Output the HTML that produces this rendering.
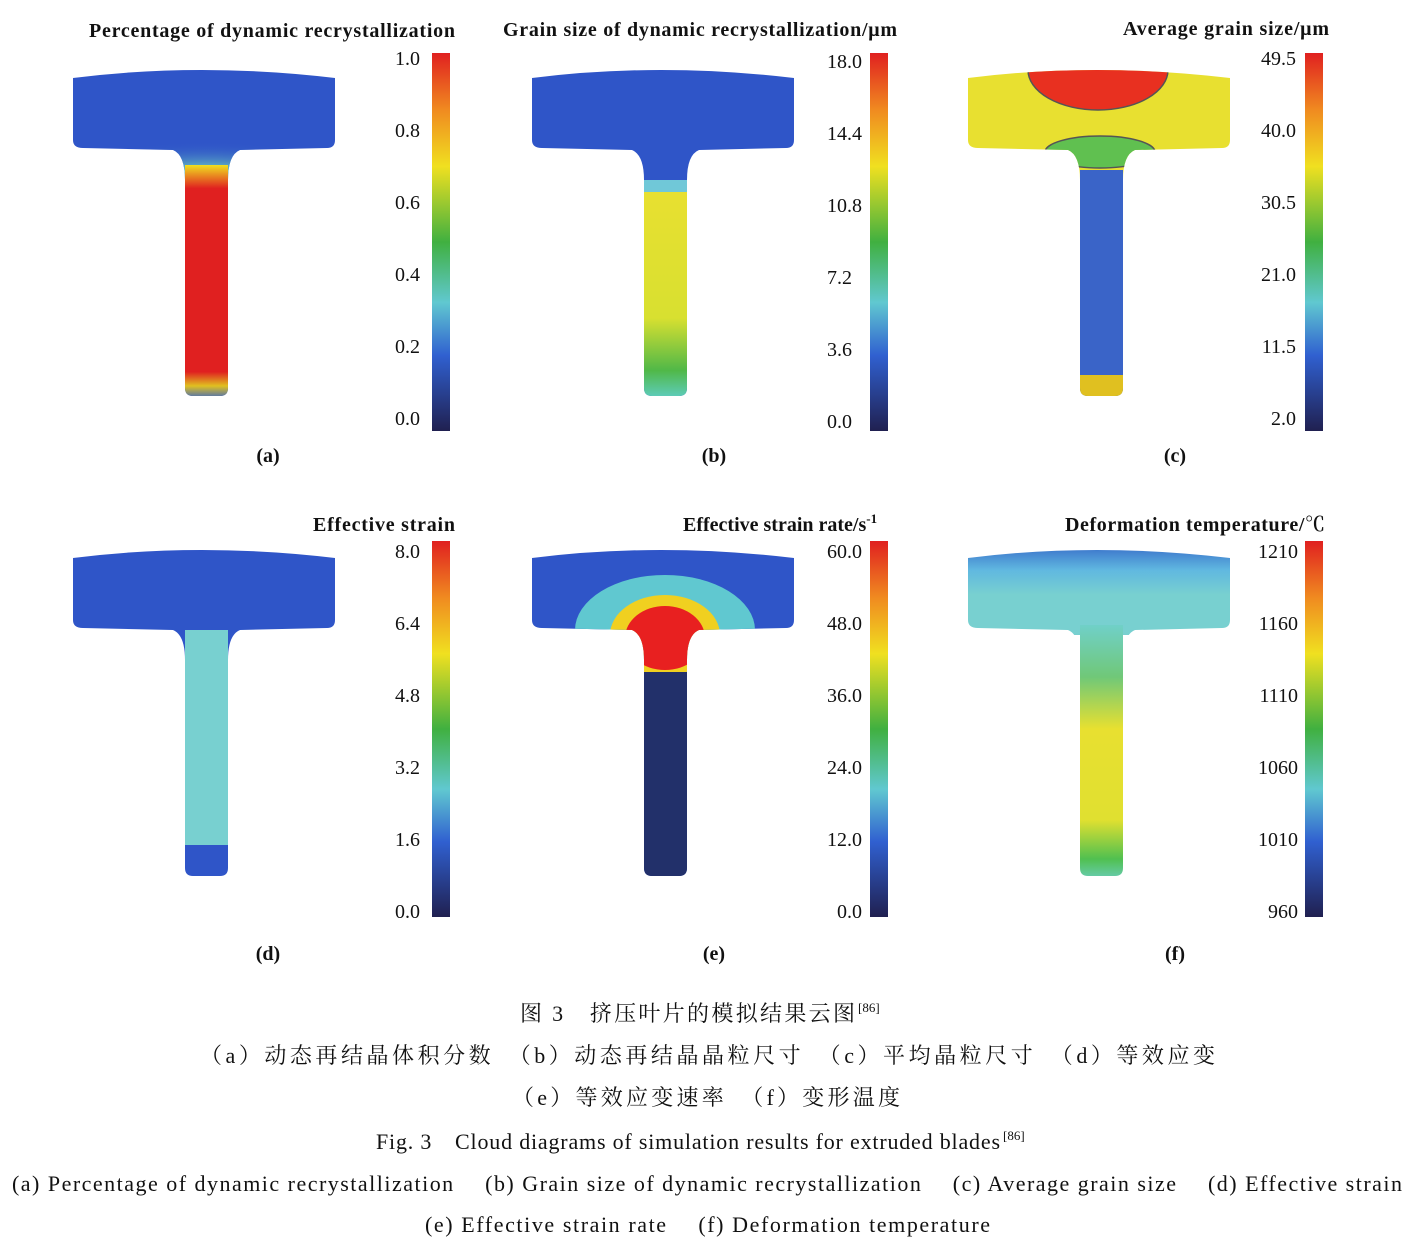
<!DOCTYPE html>
<html><head><meta charset="utf-8"><style>
body{margin:0;background:#fff;}
svg{display:block}
text{font-family:"Liberation Serif","Noto Serif CJK SC",serif;fill:#111}
.t{font-size:20px;font-weight:600}
.k{font-size:20px}
.c{font-size:22px}
</style></head><body>
<svg width="1425" height="1251" viewBox="0 0 1425 1251" xmlns="http://www.w3.org/2000/svg">
<defs>
<linearGradient id="cb" x1="0" y1="0" x2="0" y2="1">
<stop offset="0" stop-color="#e02020"/><stop offset="0.15" stop-color="#f08a20"/><stop offset="0.3" stop-color="#f0e020"/><stop offset="0.5" stop-color="#40b040"/><stop offset="0.66" stop-color="#60c8d0"/><stop offset="0.8" stop-color="#3060d0"/><stop offset="1" stop-color="#202050"/>
</linearGradient>
<clipPath id="T" clipPathUnits="userSpaceOnUse"><path d="M73,78 Q200,62 335,78 L335,140 Q335,148 327,148 L240,150 Q228,155 228,180 L228,388 Q228,396 220,396 L193,396 Q185,396 185,388 L185,180 Q185,155 173,150 L83,148 Q73,148 73,140 Z"/></clipPath>
<radialGradient id="ra" cx="0.5" cy="1" r="0.6"><stop offset="0" stop-color="#f0e020"/><stop offset="0.4" stop-color="#70d0c0"/><stop offset="1" stop-color="#2f55c8" stop-opacity="0"/></radialGradient>
<linearGradient id="sb" x1="0" y1="0" x2="0" y2="1"><stop offset="0" stop-color="#e8e030"/><stop offset="0.6" stop-color="#d8e030"/><stop offset="0.85" stop-color="#50b848"/><stop offset="1" stop-color="#60d0d0"/></linearGradient>
<linearGradient id="sf" x1="0" y1="0" x2="0" y2="1"><stop offset="0" stop-color="#70d0c8"/><stop offset="0.2" stop-color="#70c878"/><stop offset="0.4" stop-color="#e8e030"/><stop offset="0.75" stop-color="#e0e030"/><stop offset="0.9" stop-color="#50c050"/><stop offset="1" stop-color="#70d0d0"/></linearGradient>
<linearGradient id="hf" x1="0" y1="0" x2="0" y2="1"><stop offset="0" stop-color="#2850c0"/><stop offset="0.35" stop-color="#60b8e0"/><stop offset="0.6" stop-color="#78d0d0"/><stop offset="1" stop-color="#78d0d0"/></linearGradient>
<linearGradient id="sa" x1="0" y1="0" x2="0" y2="1"><stop offset="0" stop-color="#f0e020"/><stop offset="0.1" stop-color="#e02020"/><stop offset="0.88" stop-color="#e02020"/><stop offset="0.94" stop-color="#e0c020"/><stop offset="1" stop-color="#3060d0"/></linearGradient>
</defs>

<g clip-path="url(#T)">
<rect x="60" y="55" width="290" height="350" fill="#2f55c8"/>
<ellipse cx="206" cy="150" rx="140" ry="40" fill="url(#ra)"/>
<rect x="185" y="165" width="43" height="235" fill="url(#sa)"/>
</g>
<g transform="translate(459,0)"><g clip-path="url(#T)">
<rect x="60" y="55" width="290" height="350" fill="#2f55c8"/>
<rect x="185" y="180" width="43" height="12" fill="#70c8d8"/>
<rect x="185" y="192" width="43" height="210" fill="url(#sb)"/>
</g></g>
<g transform="translate(895,0)"><g clip-path="url(#T)">
<rect x="60" y="55" width="290" height="350" fill="#e8e030"/>
<ellipse cx="203" cy="70" rx="70" ry="40" fill="#e83020" stroke="#555" stroke-width="1.5"/>
<ellipse cx="205" cy="152" rx="55" ry="16" fill="#60c050" stroke="#555" stroke-width="1.5"/>
<rect x="185" y="170" width="43" height="230" fill="#3a64c8"/>
<rect x="185" y="375" width="43" height="25" fill="#e0c020"/>
</g></g>
<g transform="translate(0,480)"><g clip-path="url(#T)">
<rect x="60" y="55" width="290" height="350" fill="#2f55c8"/>
<rect x="185" y="150" width="43" height="215" fill="#78d0d0"/>
</g></g>
<g transform="translate(459,480)"><g clip-path="url(#T)">
<rect x="60" y="55" width="290" height="350" fill="#2f55c8"/>
<ellipse cx="206" cy="150" rx="90" ry="55" fill="#60c8d0"/>
<ellipse cx="206" cy="155" rx="55" ry="40" fill="#f0d020"/>
<ellipse cx="206" cy="158" rx="40" ry="32" fill="#e82020"/>
<rect x="185" y="192" width="43" height="210" fill="#22306a"/>
</g></g>
<g transform="translate(895,480)"><g clip-path="url(#T)">
<rect x="60" y="55" width="290" height="100" fill="url(#hf)"/>
<rect x="185" y="145" width="43" height="260" fill="url(#sf)"/>
</g></g>

<rect x="432" y="53" width="18" height="378" fill="url(#cb)"/>
<rect x="870" y="53" width="18" height="378" fill="url(#cb)"/>
<rect x="1305" y="53" width="18" height="378" fill="url(#cb)"/>
<rect x="432" y="541" width="18" height="376" fill="url(#cb)"/>
<rect x="870" y="541" width="18" height="376" fill="url(#cb)"/>
<rect x="1305" y="541" width="18" height="376" fill="url(#cb)"/>

<g class="t" lengthAdjust="spacing">
<text x="89" y="37" textLength="366" lengthAdjust="spacing">Percentage of dynamic recrystallization</text>
<text x="503" y="36" textLength="394" lengthAdjust="spacing">Grain size of dynamic recrystallization/μm</text>
<text x="1123" y="35" textLength="206" lengthAdjust="spacing">Average grain size/μm</text>
<text x="313" y="531" textLength="142" lengthAdjust="spacing">Effective strain</text>
<text x="683" y="531">Effective strain rate/s<tspan font-size="13" dy="-8">-1</tspan></text>
<text x="1065" y="531" textLength="260" lengthAdjust="spacing">Deformation temperature/℃</text>
</g>
<g class="k" text-anchor="end">
<text x="420" y="65">1.0</text><text x="420" y="137">0.8</text><text x="420" y="209">0.6</text><text x="420" y="281">0.4</text><text x="420" y="353">0.2</text><text x="420" y="425">0.0</text>
<text x="862" y="68">18.0</text><text x="862" y="140">14.4</text><text x="862" y="212">10.8</text><text x="852" y="284">7.2</text><text x="852" y="356">3.6</text><text x="852" y="428">0.0</text>
<text x="1296" y="65">49.5</text><text x="1296" y="137">40.0</text><text x="1296" y="209">30.5</text><text x="1296" y="281">21.0</text><text x="1296" y="353">11.5</text><text x="1296" y="425">2.0</text>
<text x="420" y="558">8.0</text><text x="420" y="630">6.4</text><text x="420" y="702">4.8</text><text x="420" y="774">3.2</text><text x="420" y="846">1.6</text><text x="420" y="918">0.0</text>
<text x="862" y="558">60.0</text><text x="862" y="630">48.0</text><text x="862" y="702">36.0</text><text x="862" y="774">24.0</text><text x="862" y="846">12.0</text><text x="862" y="918">0.0</text>
<text x="1298" y="558">1210</text><text x="1298" y="630">1160</text><text x="1298" y="702">1110</text><text x="1298" y="774">1060</text><text x="1298" y="846">1010</text><text x="1298" y="918">960</text>
</g>
<g class="t" text-anchor="middle">
<text x="268" y="462">(a)</text><text x="714" y="462">(b)</text><text x="1175" y="462">(c)</text>
<text x="268" y="960">(d)</text><text x="714" y="960">(e)</text><text x="1175" y="960">(f)</text>
</g>
<g class="c">
<text x="520" y="1021" textLength="335" lengthAdjust="spacing">图 3　挤压叶片的模拟结果云图</text><text x="858" y="1012" font-size="13">[86]</text>
<text x="200" y="1063" textLength="1015" lengthAdjust="spacing">（a）动态再结晶体积分数　（b）动态再结晶晶粒尺寸　（c）平均晶粒尺寸　（d）等效应变</text>
<text x="512" y="1105" textLength="388" lengthAdjust="spacing">（e）等效应变速率　（f）变形温度</text>
<text x="376" y="1149" textLength="624" lengthAdjust="spacing">Fig. 3　Cloud diagrams of simulation results for extruded blades</text><text x="1003" y="1140" font-size="13">[86]</text>
<text x="12" y="1191" textLength="1390" lengthAdjust="spacing">(a) Percentage of dynamic recrystallization　 (b) Grain size of dynamic recrystallization　 (c) Average grain size　 (d) Effective strain</text>
<text x="425" y="1232" textLength="565" lengthAdjust="spacing">(e) Effective strain rate　 (f) Deformation temperature</text>
</g>
</svg>
</body></html>
